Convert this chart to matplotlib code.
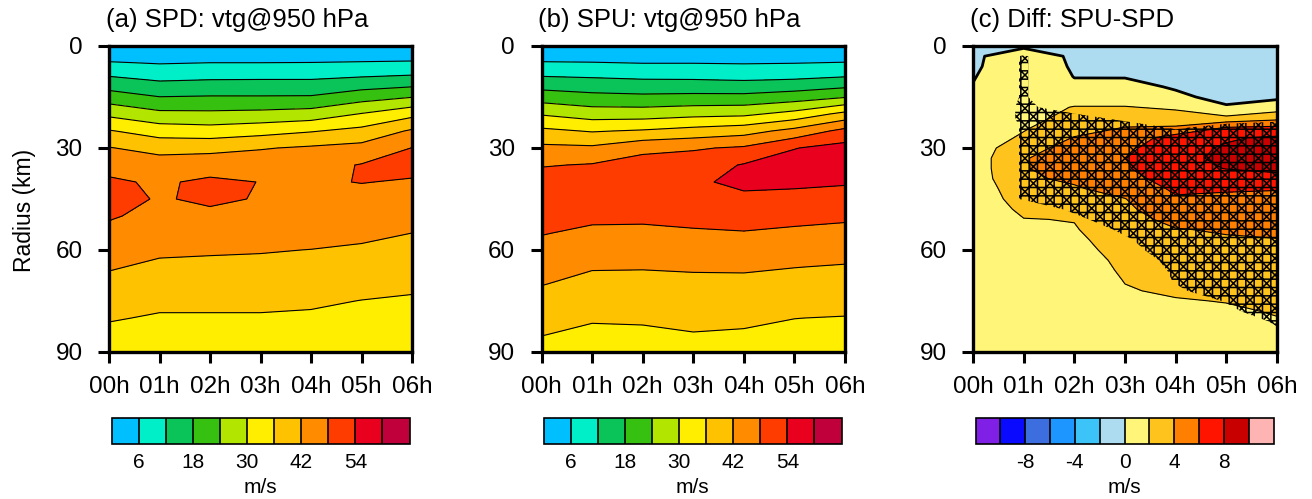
import numpy as np
import matplotlib
matplotlib.use('Agg')
import matplotlib.pyplot as plt
import matplotlib.cm as cm
from matplotlib.colors import ListedColormap, BoundaryNorm

plt.rcParams['font.family'] = ['Liberation Sans', 'DejaVu Sans']
plt.rcParams['axes.unicode_minus'] = False
plt.rcParams['hatch.linewidth'] = 1.1
plt.rcParams['hatch.color'] = 'black'

# --- data -------------------------------------------------------------
hours = [0, 1, 2, 3, 4, 5, 6]
hour_labels = ['00h', '01h', '02h', '03h', '04h', '05h', '06h']
radius_ab = [0, 5, 10, 15, 20, 25, 30, 35, 40, 45, 50, 55, 60, 65, 70, 75, 80, 85, 90]
radius_c = [0, 3, 6, 9, 12, 15, 18, 21, 24, 27, 30, 33, 36, 39, 42, 45, 48, 51, 54,
            57, 60, 63, 66, 69, 72, 75, 78, 81, 84, 87, 90]

# tangential wind (m/s), one row per hour, values along radius_ab
spd_vtg = [
    [0, 6.5, 13.5, 20.8, 28.7, 36.4, 42.3, 46.2, 48.8, 49.7, 48.5, 46.7, 44.6, 42.5, 40.4, 38.4, 36.4, 34.7, 33.0],
    [0, 5.7, 11.6, 18.1, 25.5, 33.4, 39.9, 45.0, 47.3, 47.6, 46.6, 45.0, 43.0, 40.9, 39.0, 37.1, 35.5, 34.1, 32.8],
    [0, 6.1, 12.1, 18.4, 25.3, 32.6, 40.3, 45.5, 49.0, 48.8, 47.0, 45.3, 42.6, 40.8, 38.9, 37.1, 35.5, 34.2, 33.0],
    [0, 6.1, 12.2, 18.4, 25.7, 33.9, 41.6, 45.5, 47.9, 47.7, 46.3, 44.5, 42.4, 40.5, 38.8, 37.1, 35.5, 34.3, 33.0],
    [0, 6.2, 12.2, 18.5, 26.6, 35.6, 42.8, 46.0, 47.6, 47.5, 46.2, 44.3, 41.9, 40.1, 38.4, 36.7, 35.3, 34.2, 33.0],
    [0, 6.5, 13.2, 21.5, 30.3, 37.7, 43.9, 48.3, 48.1, 46.9, 45.3, 43.3, 41.2, 39.4, 37.6, 35.9, 34.9, 34.0, 33.0],
    [0, 6.8, 14.1, 23.8, 34.3, 42.8, 48.1, 49.0, 47.7, 46.2, 44.3, 42.0, 40.2, 38.5, 36.8, 35.5, 34.7, 33.8, 33.0],
]
spu_vtg = [
    [0, 6.5, 13.5, 21.2, 29.5, 37.3, 43.3, 47.6, 50.8, 51.7, 51.0, 48.3, 46.2, 44.2, 42.2, 40.1, 38.0, 36.1, 34.0],
    [0, 6.3, 12.9, 19.7, 27.2, 35.6, 43.0, 48.4, 51.8, 52.3, 49.2, 46.9, 44.6, 42.4, 40.5, 38.4, 36.5, 34.9, 33.5],
    [0, 5.9, 12.3, 19.2, 27.2, 36.6, 46.4, 50.6, 52.8, 52.3, 49.2, 46.7, 44.5, 42.3, 40.5, 38.6, 36.7, 35.0, 33.5],
    [0, 5.9, 12.2, 19.5, 28.3, 38.2, 47.4, 51.2, 53.3, 52.8, 50.3, 47.1, 44.8, 42.6, 40.7, 39.1, 37.4, 35.7, 34.0],
    [0, 5.7, 11.8, 19.5, 28.8, 39.7, 48.8, 54.4, 55.0, 53.1, 50.3, 47.7, 45.0, 42.7, 40.7, 38.8, 37.0, 35.4, 34.0],
    [0, 5.9, 12.3, 21.0, 32.0, 43.9, 53.8, 56.3, 55.0, 52.5, 49.6, 47.0, 44.5, 42.1, 40.0, 38.0, 36.05, 35.0, 34.0],
    [0, 6.3, 13.3, 23.6, 37.7, 49.8, 56.0, 56.8, 54.5, 52.0, 49.0, 46.4, 44.0, 41.6, 39.6, 37.6, 35.8, 34.8, 34.0],
]
# SPU - SPD (m/s), one row per hour, values along radius_c
diff_vtg = [
    [-0.3, -0.25, -0.2, -0.07, 0.05, 0.2, 0.35, 0.5, 0.65, 0.8, 0.9, 0.95, 0.95, 0.9, 0.85, 0.8,
     0.7, 0.6, 0.55, 0.5, 0.45, 0.4, 0.4, 0.35, 0.3, 0.3, 0.25, 0.25, 0.2, 0.2, 0.2],
    [-0.25, 0.84, 0.9, 0.95, 1.0, 1.05, 1.1, 1.3, 1.8, 2.3, 3.29, 3.87, 3.87, 3.72, 3.15, 2.8,
     2.37, 1.95, 1.7, 1.5, 1.3, 1.1, 1.0, 0.9, 0.8, 0.7, 0.6, 0.5, 0.45, 0.4, 0.35],
    [-0.5, -0.24, -0.15, -0.03, 0.2, 1.0, 2.1, 2.6, 3.2, 4.1, 4.7, 5.0, 4.9, 4.3, 3.8, 3.3,
     2.6, 2.05, 1.9, 1.75, 1.6, 1.4, 1.2, 1.0, 0.9, 0.8, 0.7, 0.6, 0.5, 0.45, 0.4],
    [-0.8, -0.6, -0.4, -0.05, 0.3, 1.0, 2.1, 3.0, 4.05, 4.8, 5.5, 5.95, 5.8, 5.3, 4.7, 3.95,
     3.6, 3.2, 2.9, 2.6, 2.45, 2.3, 2.2, 2.05, 1.9, 1.7, 1.5, 1.3, 1.1, 1.0, 0.9],
    [-1.0, -0.9, -0.7, -0.4, -0.1, 0.2, 1.7, 2.8, 4.2, 6.9, 7.4, 7.6, 7.4, 6.9, 6.3, 5.8,
     5.3, 4.6, 3.9, 3.5, 3.2, 3.0, 2.8, 2.5, 2.2, 1.9, 1.7, 1.5, 1.3, 1.2, 1.1],
    [-1.2, -1.1, -0.9, -0.7, -0.5, -0.3, 0.1, 2.3, 6.1, 7.8, 8.2, 8.3, 8.05, 7.3, 6.2, 5.6,
     5.0, 4.5, 4.2, 3.8, 3.5, 3.2, 2.9, 2.6, 2.3, 2.05, 1.8, 1.6, 1.4, 1.3, 1.2],
    [-1.2, -1.15, -1.0, -0.8, -0.5, -0.35, 1.0, 3.2, 6.4, 8.3, 8.8, 8.9, 8.5, 7.3, 6.1, 5.5,
     5.0, 4.6, 4.3, 3.95, 3.7, 3.4, 3.1, 2.8, 2.6, 2.3, 2.1, 1.9, 1.7, 1.5, 1.4],
]
# significance measure (>0 = significant, hatched), one row per hour, along radius_c
diff_sig = [
    [-1, -1, -1, -1, -1, -1, -1, -1, -1, -1, -1, -1, -1, -1, -1, -1,
     -1, -1, -1, -1, -1, -1, -1, -1, -1, -1, -1, -1, -1, -1, -1],
    [-1, 0.1, 0.1, 0.1, 0.1, 0.1, 0.2, 0.2, 0.1, 0.1, 0.1, 0.1, 0.1, 0.1, 0.1, 0.1,
     -1, -1, -1, -1, -1, -1, -1, -1, -1, -1, -1, -1, -1, -1, -1],
    [-1, -1, -1, -1, -1, -1, -0.5, 0.3, 1, 1, 1, 1, 1, 1, 1, 1,
     0.3, -0.4, -1, -1, -1, -1, -1, -1, -1, -1, -1, -1, -1, -1, -1],
    [-1, -1, -1, -1, -1, -1, -1, -0.3, 0.5, 1, 1, 1, 1, 1, 1, 1,
     1, 1, 0.3, -0.2, -0.5, -1.0, -1.5, -2.0, -2.5, -2.5, -2.5, -2.5, -2.5, -2.5, -2.5],
    [-1, -1, -1, -1, -1, -1, -1, -1, -0.1, 0.5, 1, 1, 1, 1, 1, 1,
     1, 1, 1, 1, 0.8, 0.5, 0.3, 0.15, -0.3, -1, -1, -1, -1, -1, -1],
    [-1, -1, -1, -1, -1, -1, -1, -0.5, 0.3, 1, 1, 1, 1, 1, 1, 1,
     1, 1, 1, 1, 1, 1, 1, 1, 1, 0.1, -0.4, -1, -1, -1, -1],
    [-1, -1, -1, -1, -1, -1, -1, -0.3, 0.4, 1, 1, 1, 1, 1, 1, 1,
     1, 1, 1, 1, 1, 1, 1, 1, 1, 1, 1, 0.2, -0.2, -0.6, -1],
]

vtg_levels = [6, 12, 18, 24, 30, 36, 42, 48, 54, 60]
vtg_colors = ['#00BFFF', '#00EEC8', '#0AC45A', '#36C010', '#B2E600', '#FFEE00',
              '#FFC200', '#FF8C00', '#FF3C00', '#E8001E', '#C0003A']
vtg_ticks = [6, 18, 30, 42, 54]
diff_levels = [-10, -8, -6, -4, -2, 0, 2, 4, 6, 8, 10]
diff_colors = ['#8020E6', '#0A0AFF', '#3C6EE0', '#1E96FF', '#3CC3F8', '#ADDCF0',
               '#FFF578', '#FFC31E', '#FF7F00', '#FF1400', '#C80000', '#FFB4B4']
diff_ticks = [-8, -4, 0, 4, 8]

titles = ['(a) SPD: vtg@950 hPa', '(b) SPU: vtg@950 hPa', '(c) Diff: SPU-SPD']

# --- figure -----------------------------------------------------------
W, H = 1312, 499
fig = plt.figure(figsize=(W / 100, H / 100), dpi=100)


def fbox(x0, x1, y0, y1):
    # pixel box -> figure fraction rect
    return [x0 / W, 1 - y1 / H, (x1 - x0) / W, (y1 - y0) / H]


ax_px = [(109, 412), (541.5, 845), (973, 1277)]
cb_px = [(111.5, 409.5), (543.5, 841.5), (975.5, 1273.5)]


def style_axes(ax):
    ax.set_xlim(0, 6)
    ax.set_ylim(90, 0)
    ax.set_xticks(hours)
    ax.set_xticklabels(hour_labels)
    ax.set_yticks([0, 30, 60, 90])
    for s in ax.spines.values():
        s.set_linewidth(2.4)
    ax.tick_params(direction='out', length=8, width=2.2, labelsize=17.5)
    ax.tick_params(axis='x', pad=9)
    ax.tick_params(axis='y', pad=11)


def draw_bar(cax, levels, colors, ticks):
    step = levels[1] - levels[0]
    bounds = [levels[0] - step] + list(levels) + [levels[-1] + step]
    cmap = ListedColormap(colors)
    norm = BoundaryNorm(bounds, cmap.N)
    cb = fig.colorbar(cm.ScalarMappable(norm=norm, cmap=cmap), cax=cax,
                      orientation='horizontal', boundaries=bounds,
                      ticks=ticks, drawedges=True)
    cb.outline.set_linewidth(1.2)
    cb.dividers.set_linewidth(1.2)
    cb.ax.minorticks_off()
    cb.ax.tick_params(which='both', length=0, labelsize=15, pad=6.5)
    cb.set_label('m/s', fontsize=15, labelpad=4)


fields = [spd_vtg, spu_vtg]
for i in range(3):
    ax = fig.add_axes(fbox(ax_px[i][0], ax_px[i][1], 46, 352))
    if i < 2:
        T, R = np.meshgrid(hours, radius_ab)
        z = np.array(fields[i]).T
        ax.contourf(T, R, z, levels=[-1000] + vtg_levels + [1000], colors=vtg_colors)
        ax.contour(T, R, z, levels=vtg_levels, colors='k', linewidths=0.8)
    else:
        T, R = np.meshgrid(hours, radius_c)
        z = np.array(diff_vtg).T
        ax.contourf(T, R, z, levels=[-1000] + diff_levels + [1000], colors=diff_colors)
        ax.contourf(T, R, np.array(diff_sig).T, levels=[0, 100], colors='none',
                    hatches=['xx++'])
        ax.contour(T, R, z, levels=[l for l in diff_levels if l != 0],
                   colors='k', linewidths=0.8)
        ax.contour(T, R, z, levels=[0], colors='k', linewidths=2.0)
    style_axes(ax)
    fig.text((ax_px[i][0] - 3) / W, 1 - 20 / H, titles[i], fontsize=18.5,
             ha='left', va='center')

    cax = fig.add_axes(fbox(cb_px[i][0], cb_px[i][1], 418, 444))
    if i < 2:
        draw_bar(cax, vtg_levels, vtg_colors, vtg_ticks)
    else:
        draw_bar(cax, diff_levels, diff_colors, diff_ticks)

fig.text(25 / W, 1 - 210 / H, 'Radius (km)', rotation=90, fontsize=16.5,
         ha='center', va='center')

fig.savefig('out.png', dpi=100)
